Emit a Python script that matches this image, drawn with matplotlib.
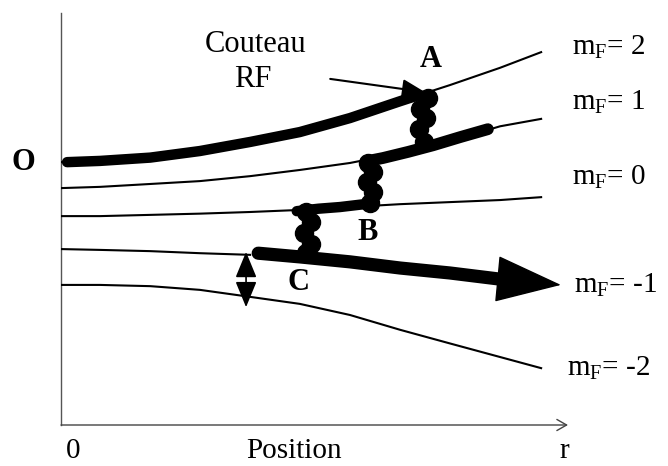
import matplotlib.pyplot as plt

plt.rcParams['font.family'] = ['Liberation Serif', 'DejaVu Serif']
plt.rcParams['mathtext.fontset'] = 'custom'
plt.rcParams['mathtext.rm'] = 'Liberation Serif'

# position along r (0 = trap centre, 100 = r), energies in arbitrary units
pos = [0, 7.7, 17.6, 27.4, 37.3, 47.1, 57.0, 66.9, 76.7, 86.6, 94.7]
mf2 = [63.8, 64.1, 64.9, 66.5, 68.7, 71.1, 74.5, 78.6, 82.5, 86.7, 90.5]
mf1 = [57.5, 57.8, 58.5, 59.2, 60.4, 61.9, 63.6, 66.0, 68.9, 72.5, 74.3]
mf0 = [50.7, 50.7, 51.0, 51.3, 51.7, 52.2, 52.9, 53.6, 54.1, 54.6, 55.3]
mfm1 = [42.7, 42.5, 42.2, 41.7, 41.3]
mfm2 = [34.0, 34.0, 33.7, 32.8, 31.1, 29.4, 26.7, 23.1, 19.8, 16.5, 13.8]
level_labels = ['= 2', '= 1', '= 0', '= -1', '= -2']
label_x = [100.8, 100.8, 100.8, 101.2, 99.8]
label_y = [89.8, 76.5, 58.3, 32.0, 11.9]

# path of the atom (thick line) : O -> A -> B -> C -> out
path_a_x = [1.2, 7.7, 17.6, 27.4, 37.3, 47.1, 57.0, 66.9, 70.4]
path_a_y = [63.8, 64.1, 64.9, 66.5, 68.7, 71.1, 74.5, 78.6, 80.0]
wig_a_x = [72.4, 70.9, 72.0, 70.6, 71.6]
wig_a_y = [79.4, 76.8, 74.4, 71.9, 68.6]
path_b_x = [60.6, 63.5, 68.5, 73.4, 78.8, 84.2]
path_b_y = [64.1, 64.8, 66.3, 67.9, 69.9, 71.8]
wig_b_x = [60.6, 61.6, 60.4, 61.6, 60.9]
wig_b_y = [63.6, 61.3, 58.9, 56.5, 54.0]
path_c_x = [46.5, 50.8, 55.0, 61.9]
path_c_y = [51.9, 52.5, 52.9, 53.9]
wig_c_x = [48.3, 49.4, 47.9, 49.4, 48.3]
wig_c_y = [51.8, 49.3, 46.7, 44.0, 41.8]
out_x = [38.9, 47.1, 57.0, 66.9, 76.7, 86.6]
out_y = [41.7, 40.8, 39.6, 38.1, 36.9, 35.4]
out_tip = (98.6, 34.0)

fig = plt.figure(figsize=(6.68, 4.66), dpi=100)
ax = fig.add_axes([61 / 668, 41 / 466, 507 / 668, 412 / 466])
ax.set_xlim(0, 100)
ax.set_ylim(0, 100)
ax.set_axis_off()

# axes drawn by hand (plain vertical line, arrow on r)
ax.plot([0, 0], [0, 100], color='#555555', lw=1, clip_on=False)
ax.annotate('', xy=(100, 0), xytext=(0, 0),
            arrowprops=dict(arrowstyle='->,head_length=0.7,head_width=0.4',
                            mutation_scale=10, color='#444444', lw=1,
                            shrinkA=0, shrinkB=0))

# Zeeman sublevels
for y in [mf2, mf1, mf0, mfm2]:
    ax.plot(pos, y, color='k', lw=1.5)
ax.plot(pos[:len(mfm1)], mfm1, color='k', lw=1.5)

for lx, ly, lab in zip(label_x, label_y, level_labels):
    ax.text(lx, ly, r'$\mathrm{m_F}$' + lab, fontsize=21, ha='left',
            va='baseline', clip_on=False)

# atom trajectory
thick = dict(color='k', solid_capstyle='round', solid_joinstyle='round')
ax.plot(path_a_x, path_a_y, lw=7.5, **thick)
ax.plot(path_b_x, path_b_y, lw=8.5, **thick)
ax.plot(path_c_x, path_c_y, lw=7.5, **thick)
ax.plot(out_x, out_y, lw=9.5, **thick)
for wx, wy in [(wig_a_x, wig_a_y), (wig_b_x, wig_b_y), (wig_c_x, wig_c_y)]:
    ax.plot(wx, wy, lw=9, marker='o', ms=13, **thick)
ax.annotate('', xy=out_tip, xytext=(out_x[-1], out_y[-1]),
            arrowprops=dict(arrowstyle='-|>,head_length=1.1,head_width=0.39',
                            mutation_scale=40, fc='k', ec='k', lw=1,
                            shrinkA=0, shrinkB=0))

# energy gap arrow
ax.annotate('', xy=(36.5, 28.6), xytext=(36.5, 42.0),
            arrowprops=dict(arrowstyle='<|-|>,head_length=0.8,head_width=0.33',
                            mutation_scale=20, fc='k', ec='k', lw=1.2,
                            shrinkA=0, shrinkB=0))

# RF knife
ax.text(38.3, 90.5, 'Couteau', fontsize=22, ha='center', va='baseline')
ax.text(37.9, 82.0, 'RF', fontsize=22, ha='center', va='baseline')
ax.annotate('', xy=(71.8, 80.8), xytext=(53.1, 84.0),
            arrowprops=dict(arrowstyle='-|>,head_length=0.7,head_width=0.3',
                            mutation_scale=20, fc='k', ec='k', lw=1.5,
                            shrinkA=0, shrinkB=0))

for tx, ty, t in [(-7.5, 63.6, 'O'), (73.0, 88.8, 'A'), (60.4, 46.8, 'B'),
                  (46.9, 34.5, 'C')]:
    ax.text(tx, ty, t, fontsize=22, fontweight='bold', ha='center',
            va='center', clip_on=False)

ax.text(2.4, -8.0, '0', fontsize=21, ha='center', va='baseline', clip_on=False)
ax.text(46.0, -8.0, 'Position', fontsize=21, ha='center', va='baseline',
        clip_on=False)
ax.text(99.2, -8.0, 'r', fontsize=21, ha='center', va='baseline', clip_on=False)

fig.savefig('out.png', dpi=100)
